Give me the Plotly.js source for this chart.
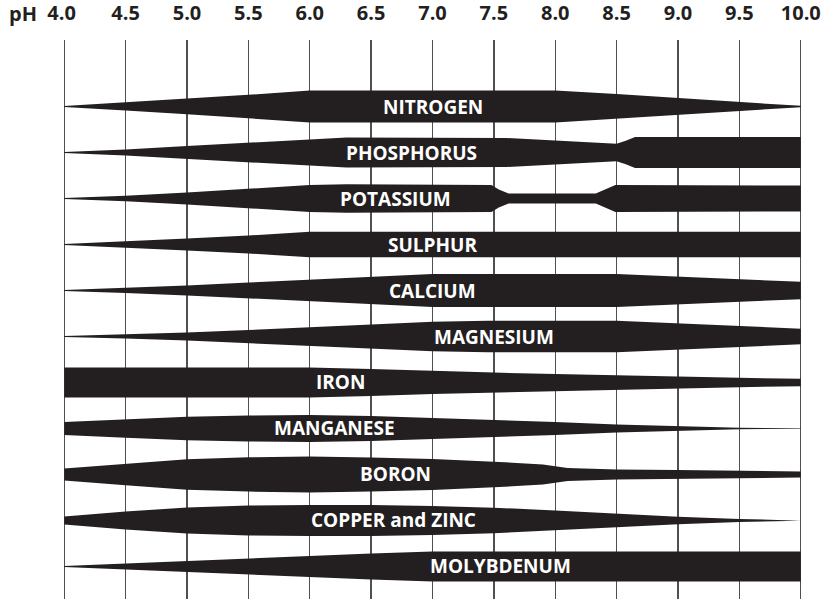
<!DOCTYPE html>
<html>
<head>
<meta charset="utf-8">
<script src="https://cdn.plot.ly/plotly-3.0.1.min.js"></script>
<style>html,body{margin:0;padding:0;background:#fff;}#chart{width:824px;height:599px;}</style>
</head>
<body>
<div id="chart"></div>
<script>
// Nutrient names (top to bottom)
const nutrients = ["NITROGEN","PHOSPHORUS","POTASSIUM","SULPHUR","CALCIUM","MAGNESIUM","IRON","MANGANESE","BORON","COPPER and ZINC","MOLYBDENUM"];

// pH tick labels
const phTicks = [4.0,4.5,5.0,5.5,6.0,6.5,7.0,7.5,8.0,8.5,9.0,9.5,10.0];
const phTickText = ["4.0\u00a0","4.5","5.0","5.5","6.0","6.5","7.0","7.5","8.0","8.5","9.0","9.5","10.0"];

// Relative availability (band thickness, 1 = widest) at pH breakpoints
const nitrogenPH   = [4.0,4.5,5.0,5.5,6.0,8.0,8.5,9.0,9.5,10.0];
const nitrogenAv   = [0.03,0.25,0.48,0.73,1.0,1.0,0.78,0.52,0.28,0.04];
const phosphorusPH = [4.0,4.5,5.0,5.5,6.0,6.3,7.6,8.5,8.58,8.65,10.0];
const phosphorusAv = [0.03,0.19,0.40,0.60,0.81,0.94,0.91,0.55,0.75,0.97,0.97];
const potassiumPH  = [4.0,4.5,5.0,5.5,6.0,6.3,7.48,7.54,7.62,8.33,8.41,8.49,10.0];
const potassiumAv  = [0.03,0.17,0.37,0.60,0.85,0.89,0.84,0.56,0.31,0.31,0.56,0.84,0.81];
const sulphurPH    = [4.0,4.5,5.0,5.5,6.0,10.0];
const sulphurAv    = [0.03,0.19,0.38,0.56,0.80,0.80];
const calciumPH    = [4.0,4.5,5.0,5.5,6.0,6.5,7.0,8.5,10.0];
const calciumAv    = [0.03,0.15,0.31,0.50,0.68,0.84,1.03,1.03,0.54];
const magnesiumPH  = [4.0,4.5,5.0,5.5,6.0,6.5,7.0,7.45,8.5,10.0];
const magnesiumAv  = [0.03,0.12,0.25,0.40,0.57,0.75,0.92,0.99,0.99,0.49];
const ironPH       = [4.0,6.0,6.5,7.0,7.5,8.0,8.5,9.0,9.5,10.0];
const ironAv       = [0.94,0.94,0.84,0.72,0.62,0.53,0.44,0.37,0.29,0.23];
const manganesePH  = [4.0,4.5,5.0,5.5,6.0,6.5,7.0,7.5,8.0,8.5,9.0,9.5,10.0];
const manganeseAv  = [0.40,0.58,0.73,0.81,0.84,0.78,0.66,0.55,0.40,0.25,0.13,0.05,0.01];
const boronPH      = [4.0,4.5,5.0,5.5,6.0,6.5,7.0,7.5,7.9,8.1,8.5,9.0,9.5,10.0];
const boronAv      = [0.37,0.68,0.95,1.07,1.12,1.06,0.97,0.80,0.63,0.41,0.31,0.28,0.23,0.19];
const copperZincPH = [4.0,4.5,5.0,5.5,6.0,6.5,7.0,7.5,8.0,8.5,9.0,9.5,10.0];
const copperZincAv = [0.25,0.56,0.81,0.94,0.97,0.97,0.91,0.80,0.63,0.42,0.23,0.10,0.01];
const molybdenumPH = [4.0,4.5,5.0,5.5,6.0,6.5,7.0,10.0];
const molybdenumAv = [0.03,0.19,0.35,0.50,0.65,0.81,0.94,0.94];

// pH at which each label is centred
const labelPH = [7.0,6.83,6.7,7.0,7.0,7.5,6.25,6.2,6.7,6.68,7.55];

const bandPH = [nitrogenPH,phosphorusPH,potassiumPH,sulphurPH,calciumPH,magnesiumPH,ironPH,manganesePH,boronPH,copperZincPH,molybdenumPH];
const bandAv = [nitrogenAv,phosphorusAv,potassiumAv,sulphurAv,calciumAv,magnesiumAv,ironAv,manganeseAv,boronAv,copperZincAv,molybdenumAv];

const HALF = 0.348; // half-thickness of a full band, in row units
const FILL = "#231f20";
const FONT = "Open Sans, Noto Sans, sans-serif";

const traces = nutrients.map((name, i) => {
  const ph = bandPH[i], av = bandAv[i];
  const top = av.map(a => i - a * HALF);
  const bot = av.map(a => i + a * HALF);
  return {
    type: "scatter", mode: "lines", name: name,
    x: ph.concat(ph.slice().reverse()),
    y: top.concat(bot.slice().reverse()),
    fill: "toself", fillcolor: FILL,
    line: {width: 0, color: FILL},
    hoverinfo: "skip", showlegend: false
  };
});

const annotations = nutrients.map((name, i) => ({
  x: labelPH[i], y: i, xref: "x", yref: "y", text: name, showarrow: false,
  font: {family: FONT, size: 19, color: "#ffffff", weight: 700},
  xanchor: "center", yanchor: "middle"
}));
annotations.push({
  x: -0.032, y: 1, xref: "paper", yref: "paper", yshift: 27, text: "pH", showarrow: false,
  font: {family: FONT, size: 20, color: "#231f20", weight: 700},
  xanchor: "right", yanchor: "middle"
});

const layout = {
  width: 824, height: 599,
  margin: {l: 63, r: 22, t: 40, b: 0, pad: 0},
  paper_bgcolor: "#ffffff", plot_bgcolor: "#ffffff",
  showlegend: false,
  xaxis: {
    side: "top", range: [3.99, 10.01], tickmode: "array",
    tickvals: phTicks, ticktext: phTickText,
    tickfont: {family: FONT, size: 20, color: "#231f20", weight: 700},
    ticks: "outside", ticklen: 11, tickcolor: "rgba(0,0,0,0)",
    showgrid: true, gridcolor: "#505050", gridwidth: 1.4,
    zeroline: false, showline: false, fixedrange: true
  },
  yaxis: {
    range: [10.707, -1.446], showgrid: false, zeroline: false,
    showticklabels: false, showline: false, ticks: "", fixedrange: true
  },
  annotations: annotations
};

Plotly.newPlot("chart", traces, layout, {displayModeBar: false, staticPlot: true});
</script>
</body>
</html>
